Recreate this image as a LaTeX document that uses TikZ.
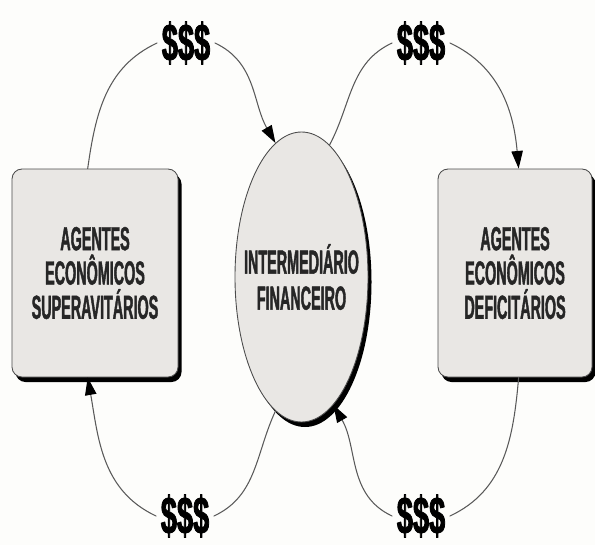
\documentclass[tikz,border=0pt]{standalone}
\usepackage{fontspec}
\setmainfont{Liberation Sans}[FakeStretch=0.43,BoldFeatures={FakeBold=1.2}]
\newfontfamily\cifrao{Liberation Sans}[FakeStretch=0.55,BoldFeatures={FakeBold=1.5}]
\usetikzlibrary{arrows.meta,shapes.geometric,shadows}
\definecolor{caixa}{RGB}{233,231,228}
\definecolor{fundo}{RGB}{253,253,251}

\begin{document}
\begin{tikzpicture}[line cap=round,line join=round,x=1cm,y=1cm,
  sombra/.style={drop shadow={shadow xshift=0.07cm,shadow yshift=-0.1cm,fill=black,opacity=1}},
  agente/.style={draw=black!70,fill=caixa,line width=0.5pt,rounded corners=0.2cm,sombra,
    minimum height=4.16cm,align=center,text=black!85,font=\bfseries\fontsize{19}{19.5}\selectfont},
  intermed/.style={ellipse,draw=black!70,fill=caixa,line width=0.5pt,sombra,inner sep=0pt,
    minimum width=2.66cm,minimum height=5.8cm},
  rotulo/.style={align=center,text=black!85,font=\bfseries\fontsize{19}{20.5}\selectfont},
  cifra/.style={inner sep=2.5pt,font=\cifrao\bfseries\fontsize{30}{30}\selectfont},
  liga/.style={black!65,line width=0.6pt},
  seta/.style={liga,-{Triangle[length=10pt,width=6.5pt,black]}}]
\fill[fundo] (0,0) rectangle (11.9,10.9);
\useasboundingbox (0,0) rectangle (11.9,10.9);
% the three agents
\node[agente,minimum width=3.32cm] (sup) at (1.90,5.44) {AGENTES\\ECONÔMICOS\\SUPERAVITÁRIOS};
\node[intermed] (fin) at (6.03,5.36) {};
\node[rotulo] (finTxt) at (fin.center) {INTERMEDIÁRIO\\FINANCEIRO};
\node[agente,minimum width=3.08cm] (def) at (10.30,5.44) {AGENTES\\ECONÔMICOS\\DEFICITÁRIOS};
% money labels
\node[cifra] (dTL) at (3.72,10.04) {\$\$\$};
\node[cifra] (dTR) at (8.42,10.04) {\$\$\$};
\node[cifra] (dBL) at (3.70,0.58) {\$\$\$};
\node[cifra] (dBR) at (8.42,0.58) {\$\$\$};
% flows
\draw[liga] (sup.94) to[out=82,in=205] (dTL.west);
\draw[seta] (dTL.east) to[out=-25,in=120] (fin.101);
\draw[liga] (fin.78) to[out=62,in=205] (dTR.west);
\draw[seta] (dTR.east) to[out=-25,in=95] (def.88);
\draw[liga] (def.-88) to[out=-95,in=25] (dBR.east);
\draw[seta] (dBR.west) to[out=155,in=-60] (fin.-76);
\draw[liga] (fin.-101) to[out=-115,in=25] (dBL.east);
\draw[seta] (dBL.west) to[out=155,in=-80] (sup.-94);
\end{tikzpicture}
\end{document}
